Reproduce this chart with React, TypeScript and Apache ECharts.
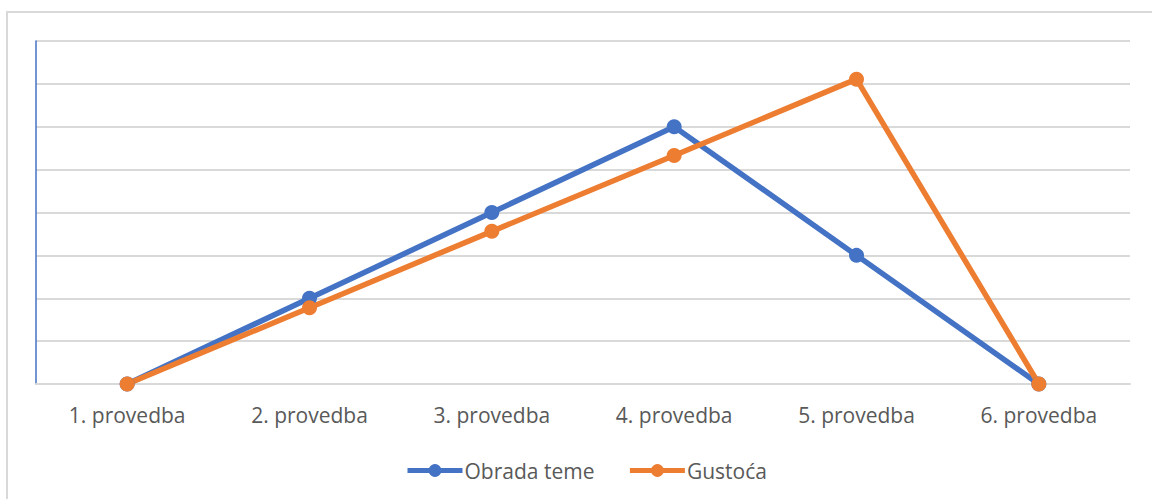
import React, { useEffect, useRef } from "react";
import * as echarts from "echarts";

const categories = ["1. provedba", "2. provedba", "3. provedba", "4. provedba", "5. provedba", "6. provedba"];
const obradaTeme = [0, 2, 4, 6, 3, 0];
const gustoca = [0, 1.78, 3.56, 5.33, 7.11, 0];
const seriesNames = ["Obrada teme", "Gustoća"];

export default function App() {
  const ref = useRef<HTMLDivElement>(null);
  useEffect(() => {
    const chart = echarts.init(ref.current!, null, { renderer: "svg" });
    const font = "'Open Sans', sans-serif";
    chart.setOption({
      animation: false,
      backgroundColor: "#ffffff",
      graphic: [
        {
          type: "rect",
          shape: { x: 7, y: 12, width: 1170, height: 520 },
          style: { fill: "none", stroke: "#d9d9d9", lineWidth: 2 },
          silent: true,
        },
      ],
      grid: { left: 36, right: 22, top: 41, bottom: 115, containLabel: false },
      xAxis: {
        type: "category",
        data: categories,
        boundaryGap: true,
        axisLine: { show: true, lineStyle: { color: "#d9d9d9", width: 2 } },
        axisTick: { show: false },
        axisLabel: { color: "#595959", fontSize: 21, fontFamily: font, margin: 20 },
      },
      yAxis: {
        type: "value",
        min: 0,
        max: 8,
        interval: 1,
        axisLine: { show: true, lineStyle: { color: "#4472C4", width: 1.5 } },
        axisTick: { show: false },
        axisLabel: { show: false },
        splitLine: { show: true, lineStyle: { color: "#d9d9d9", width: 2 } },
      },
      legend: {
        left: 400,
        top: 455,
        itemWidth: 55,
        itemHeight: 16,
        itemGap: 33,
        lineStyle: { width: 5 },
        textStyle: { color: "#595959", fontSize: 21, fontFamily: font, padding: [0, 0, 0, -3] },
        data: seriesNames,
      },
      series: [
        {
          name: seriesNames[0],
          type: "line",
          data: obradaTeme,
          symbol: "circle",
          symbolSize: 15,
          lineStyle: { color: "#4472C4", width: 5.5 },
          itemStyle: { color: "#4472C4" },
        },
        {
          name: seriesNames[1],
          type: "line",
          data: gustoca,
          symbol: "circle",
          symbolSize: 15,
          lineStyle: { color: "#ED7D31", width: 5.5 },
          itemStyle: { color: "#ED7D31" },
        },
      ],
    });
    return () => chart.dispose();
  }, []);
  return (
    <div
      ref={ref}
      style={{ position: "fixed", left: 0, top: 0, width: 1152, height: 499 }}
    />
  );
}
